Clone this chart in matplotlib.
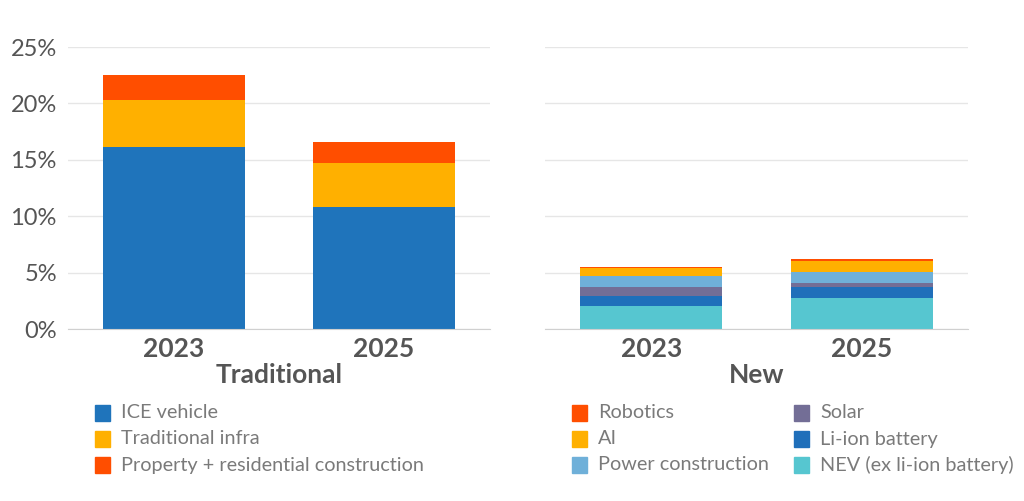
import matplotlib.pyplot as plt
from matplotlib.patches import Rectangle

years = ["2023", "2025"]

# Traditional sectors, share (%)
trad_names = ["ICE vehicle", "Traditional infra", "Property + residential construction"]
ice_vehicle = [16.1, 10.85]
trad_infra = [4.2, 3.85]
property_constr = [2.2, 1.85]

# New sectors, share (%) stacked bottom -> top
new_names = ["NEV (ex li-ion battery)", "Li-ion battery", "Solar",
             "Power construction", "AI", "Robotics"]
nev = [2.0, 2.77]
li_ion = [0.92, 0.92]
solar = [0.8, 0.41]
power_constr = [0.94, 0.95]
ai = [0.72, 0.95]
robotics = [0.12, 0.2]

yticks = [0, 5, 10, 15, 20, 25]

C_BLUE = "#1F74BB"
C_YEL = "#FFB000"
C_RED = "#FF4E00"
C_LBLUE = "#6FB0D9"
C_PURP = "#736E96"
C_LIION = "#1F6FBA"
C_TEAL = "#56C6D0"
TXT = "#555555"
LEG = "#7a7a7a"

plt.rcParams["font.family"] = ["Lato", "DejaVu Sans"]

W, H = 1024, 501
fig = plt.figure(figsize=(W / 100, H / 100), dpi=100)


def make_ax(x0, x1):
    ax = fig.add_axes([x0 / W, (H - 329) / H, (x1 - x0) / W, 282 / H])
    ax.set_xlim(-0.505, 1.505)
    ax.set_ylim(0, 25)
    ax.set_yticks(yticks)
    ax.grid(axis="y", color="#e6e6e6", linewidth=1)
    ax.set_axisbelow(True)
    for s in ["top", "right", "left"]:
        ax.spines[s].set_visible(False)
    ax.spines["bottom"].set_color("#d0d0d0")
    ax.tick_params(length=0)
    ax.set_xticks([0, 1])
    ax.set_xticklabels(years, fontsize=19, fontweight="bold", color=TXT)
    ax.tick_params(axis="x", pad=6)
    return ax


x = [0, 1]
bw = 0.676

ax1 = make_ax(68, 490)
ax1.set_yticklabels([f"{v}%" for v in yticks], fontsize=17, color=TXT)
ax1.tick_params(axis="y", pad=8)
b = [0, 0]
trad_series = [(ice_vehicle, C_BLUE), (trad_infra, C_YEL), (property_constr, C_RED)]
for vals, col in trad_series:
    ax1.bar(x, vals, bw, bottom=b, color=col)
    b = [p + q for p, q in zip(b, vals)]
ax1.set_xlabel("Traditional", fontsize=19, fontweight="bold", color=TXT, labelpad=1)

ax2 = make_ax(545, 968)
ax2.set_yticklabels([])
b = [0, 0]
new_series = [(nev, C_TEAL), (li_ion, C_LIION), (solar, C_PURP),
              (power_constr, C_LBLUE), (ai, C_YEL), (robotics, C_RED)]
for vals, col in new_series:
    ax2.bar(x, vals, bw, bottom=b, color=col)
    b = [p + q for p, q in zip(b, vals)]
ax2.set_xlabel("New", fontsize=19, fontweight="bold", color=TXT, labelpad=1)


def legend_item(px, py, label, col):
    fig.patches.append(Rectangle((px / W, (H - py - 8) / H), 15 / W, 16 / H,
                                 transform=fig.transFigure, color=col))
    fig.text((px + 26) / W, (H - py) / H, label, fontsize=14.3, color=LEG,
             va="center", ha="left")


rows = [413, 439, 465]
legend_item(95, rows[0], trad_names[0], C_BLUE)
legend_item(95, rows[1], trad_names[1], C_YEL)
legend_item(95, rows[2], trad_names[2], C_RED)
legend_item(572, rows[0], "Robotics", C_RED)
legend_item(572, rows[1], "AI", C_YEL)
legend_item(572, rows[2], "Power construction", C_LBLUE)
legend_item(794, rows[0], "Solar", C_PURP)
legend_item(794, rows[1], "Li-ion battery", C_LIION)
legend_item(794, rows[2], "NEV (ex li-ion battery)", C_TEAL)

fig.savefig("out.png", dpi=100)
